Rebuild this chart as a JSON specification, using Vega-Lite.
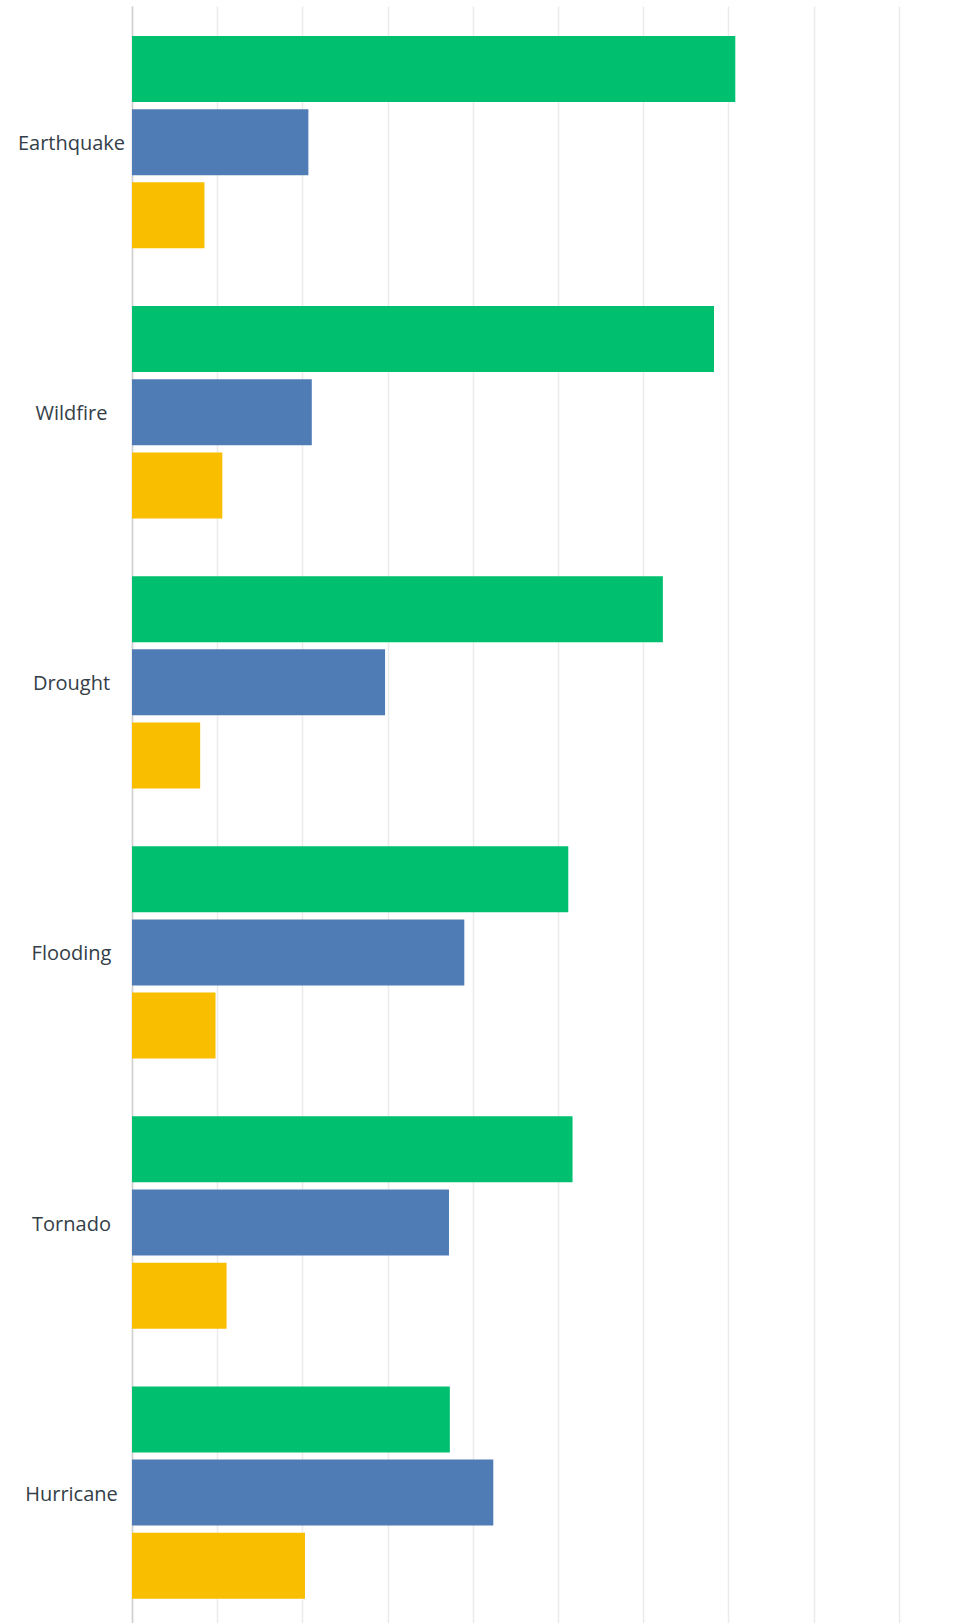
{
  "$schema": "https://vega.github.io/schema/vega-lite/v6.json",
  "width": 847,
  "height": 1617,
  "autosize": {"type": "none"},
  "padding": {"left": 132, "top": 6, "right": 0, "bottom": 0},
  "background": "white",
  "config": {"view": {"stroke": null}},
  "data": {
    "values": [
      {"disaster": "Earthquake", "series": "Series A", "pct": 70.8},
      {"disaster": "Earthquake", "series": "Series B", "pct": 20.7},
      {"disaster": "Earthquake", "series": "Series C", "pct": 8.5},
      {"disaster": "Wildfire", "series": "Series A", "pct": 68.3},
      {"disaster": "Wildfire", "series": "Series B", "pct": 21.1},
      {"disaster": "Wildfire", "series": "Series C", "pct": 10.6},
      {"disaster": "Drought", "series": "Series A", "pct": 62.3},
      {"disaster": "Drought", "series": "Series B", "pct": 29.7},
      {"disaster": "Drought", "series": "Series C", "pct": 8.0},
      {"disaster": "Flooding", "series": "Series A", "pct": 51.2},
      {"disaster": "Flooding", "series": "Series B", "pct": 39.0},
      {"disaster": "Flooding", "series": "Series C", "pct": 9.8},
      {"disaster": "Tornado", "series": "Series A", "pct": 51.7},
      {"disaster": "Tornado", "series": "Series B", "pct": 37.2},
      {"disaster": "Tornado", "series": "Series C", "pct": 11.1},
      {"disaster": "Hurricane", "series": "Series A", "pct": 37.3},
      {"disaster": "Hurricane", "series": "Series B", "pct": 42.4},
      {"disaster": "Hurricane", "series": "Series C", "pct": 20.3}
    ]
  },
  "mark": {"type": "bar"},
  "encoding": {
    "y": {
      "field": "disaster",
      "type": "nominal",
      "sort": ["Earthquake", "Wildfire", "Drought", "Flooding", "Tornado", "Hurricane"],
      "scale": {"paddingInner": 0.214, "paddingOuter": 0.1004, "align": 0.553},
      "axis": {
        "title": null,
        "domain": true,
        "domainColor": "#d0d0d0",
        "domainWidth": 1.5,
        "ticks": false,
        "grid": false,
        "labelAlign": "center",
        "labelBaseline": "middle",
        "labelPadding": 61,
        "labelOffset": 2,
        "labelFont": "Open Sans",
        "labelFontSize": 20,
        "labelColor": "#333e48",
        "labelLimit": 200
      }
    },
    "x": {
      "field": "pct",
      "type": "quantitative",
      "scale": {"domain": [0, 99.4], "nice": false, "zero": true},
      "axis": {
        "title": null,
        "labels": false,
        "ticks": false,
        "domain": false,
        "grid": true,
        "gridColor": "#ebebeb",
        "gridWidth": 1.5,
        "values": [0, 10, 20, 30, 40, 50, 60, 70, 80, 90]
      }
    },
    "yOffset": {
      "field": "series",
      "type": "nominal",
      "sort": ["Series A", "Series B", "Series C"],
      "scale": {"paddingInner": 0.098, "paddingOuter": 0}
    },
    "color": {
      "field": "series",
      "type": "nominal",
      "scale": {"domain": ["Series A", "Series B", "Series C"], "range": ["#00bf6f", "#507cb6", "#f9be00"]},
      "legend": null
    }
  }
}
